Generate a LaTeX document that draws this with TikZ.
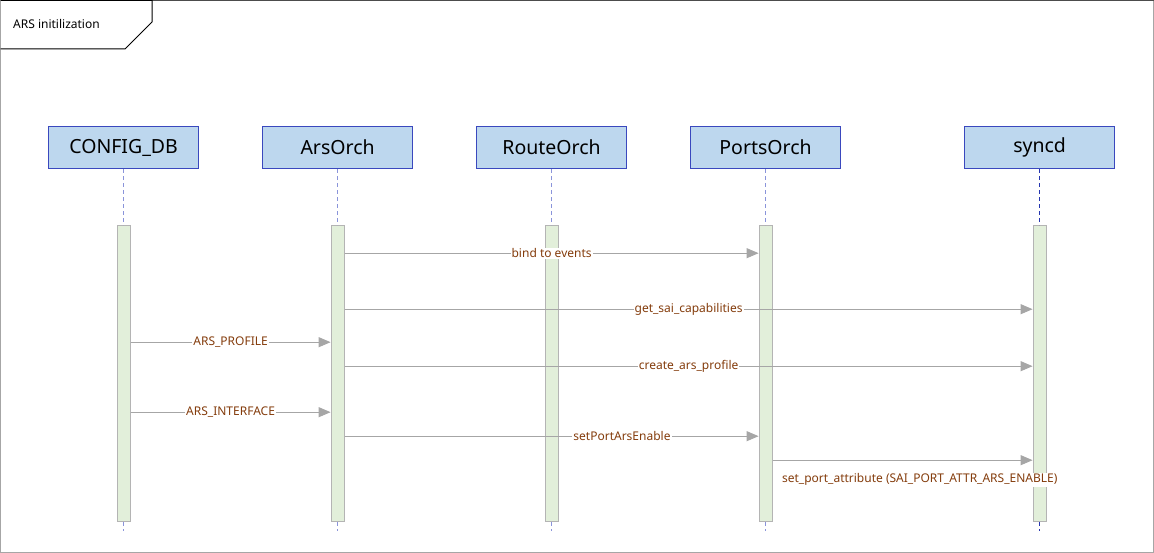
\documentclass[tikz,border=0pt]{standalone}
\usepackage{fontspec}
\setmainfont{Noto Sans}
\usetikzlibrary{positioning}
\usetikzlibrary{arrows.meta}

\definecolor{headFill}{HTML}{BDD7EE}
\definecolor{headLine}{HTML}{3A48BE}
\definecolor{barFill}{HTML}{E2EFDA}
\definecolor{barLine}{HTML}{B4B4B4}
\definecolor{msgLine}{HTML}{A6A6A6}
\definecolor{msgText}{HTML}{843C0C}
\definecolor{lifeLine}{HTML}{8A94DA}
\definecolor{lifeDark}{HTML}{2636B0}

\begin{document}
\begin{tikzpicture} [x=1pt, y=-1pt, node distance = 62.8pt, >={Triangle[length=12pt,width=10pt]}]
            % Set primary nodes
            \tikzset{
                head/.style={
                        draw=headLine,
                        line width=1.2pt,
                        fill=headFill,
                        minimum width=150pt,
                        minimum height=42pt,
                        inner sep=0pt,
                        font=\fontsize{19.5}{22}\selectfont
                    }
            }
            \tikzset{
                bar/.style={
                        draw=barLine,
                        line width=1pt,
                        fill=barFill,
                        minimum width=13pt,
                        minimum height=296pt,
                        inner sep=0pt
                    }
            }
            \tikzset{
                life/.style={
                        draw=lifeLine,
                        line width=1pt,
                        dash pattern=on 4pt off 3pt
                    }
            }
            \tikzset{
                msg/.style={
                        draw=msgLine,
                        line width=1pt,
                        ->,
                        >={Triangle[length=12pt,width=10pt,fill=msgLine]}
                    }
            }
            \tikzset{
                lbl/.style={
                        fill=white,
                        text=msgText,
                        inner sep=1pt,
                        font=\fontsize{12}{14}\selectfont
                    }
            }
            \useasboundingbox (0,0) rectangle (1154,553);
            % Frame and title
            \draw[draw=msgLine, line width=1pt] (0.5,0.5) rectangle (1153.5,552.5);
            \draw[draw=black!70, line width=1pt] (0.5,0.5) -- (1153.5,0.5);
            \draw[line width=1pt] (0.5,0.5) -- (152,0.5) -- (152,22) -- (125,49) -- (0.5,49);
            \node[anchor=west, inner sep=0pt, font=\fontsize{12}{14}\selectfont] (title) at (13,24) {ARS initilization};
            % Placing heads
            \node[head, anchor=north west] (configdb) at (48,126) {CONFIG\_DB};
            \node[head, right = of configdb] (arsorch) {ArsOrch};
            \node[head, right = of arsorch] (routeorch) {RouteOrch};
            \node[head, right = of routeorch] (portsorch) {PortsOrch};
            \node[head, right = 122.8pt of portsorch] (syncd) {syncd};
            % Placing activation bars
            \node[bar, below = 56pt of configdb] (configbar) {};
            \node[bar, below = 56pt of arsorch] (arsbar) {};
            \node[bar, below = 56pt of routeorch] (routebar) {};
            \node[bar, below = 56pt of portsorch] (portsbar) {};
            \node[bar, below = 56pt of syncd] (syncbar) {};
            % Placing lifelines
            \draw[life] (configdb) -- (configbar);
            \draw[life] (arsorch) -- (arsbar);
            \draw[life] (routeorch) -- (routebar);
            \draw[life] (portsorch) -- (portsbar);
            \draw[life, draw=lifeDark] (syncd) -- (syncbar);
            \draw[life] (configbar.south) -- ++(0,9);
            \draw[life] (arsbar.south) -- ++(0,9);
            \draw[life] (routebar.south) -- ++(0,9);
            \draw[life] (portsbar.south) -- ++(0,9);
            \draw[life, draw=lifeDark] (syncbar.south) -- ++(0,9);
            % Placing messages
            \draw[msg] ([yshift=-28pt]arsbar.north east) -- node[lbl]{bind to events} ([yshift=-28pt]portsbar.north west);
            \draw[msg] ([yshift=-84pt]arsbar.north east) -- node[lbl]{get\_sai\_capabilities} ([yshift=-84pt]syncbar.north west);
            \draw[msg] ([yshift=-117pt]configbar.north east) -- node[lbl]{ARS\_PROFILE} ([yshift=-117pt]arsbar.north west);
            \draw[msg] ([yshift=-141pt]arsbar.north east) -- node[lbl]{create\_ars\_profile} ([yshift=-141pt]syncbar.north west);
            \draw[msg] ([yshift=-187pt]configbar.north east) -- node[lbl]{ARS\_INTERFACE} ([yshift=-187pt]arsbar.north west);
            \draw[msg] ([yshift=-211pt]arsbar.north east) -- node[lbl, pos=0.67]{setPortArsEnable} ([yshift=-211pt]portsbar.north west);
            \draw[msg] ([yshift=-235pt]portsbar.north east) -- node[lbl, pos=0, anchor=north west, xshift=8pt, yshift=-12pt]{set\_port\_attribute (SAI\_PORT\_ATTR\_ARS\_ENABLE)} ([yshift=-235pt]syncbar.north west);
        \end{tikzpicture}
\end{document}
